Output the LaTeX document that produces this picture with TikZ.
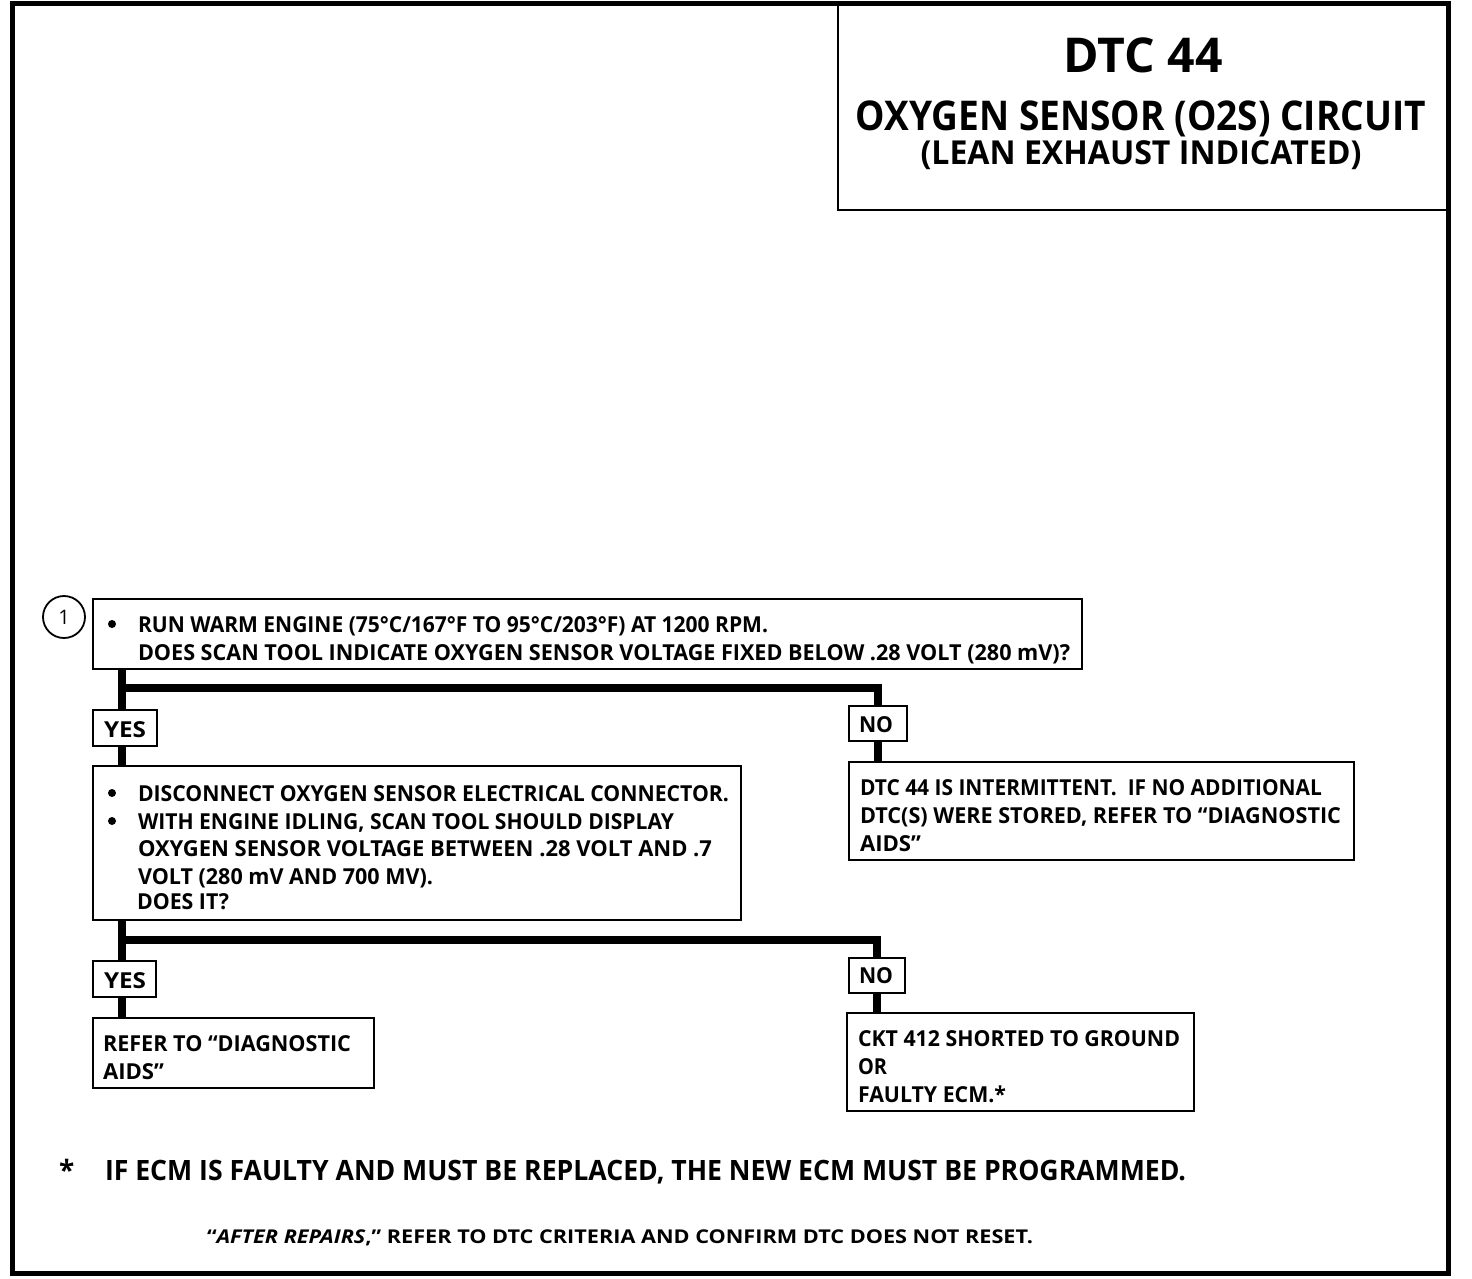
\documentclass[tikz,border=0pt]{standalone}
\usepackage{fontspec}
\usepackage{graphicx}
\setmainfont{Open Sans}
\newcommand\fitline[2]{\resizebox{#1pt}{\height}{#2}}
\begin{document}
\begin{tikzpicture}[x=1pt,y=-1pt,
  box/.style={draw, line width=2pt, rectangle, inner sep=0pt, outer sep=0pt, anchor=north west},
  txt/.style={inner sep=0pt, outer sep=0pt, anchor=base west, font=\fontsize{22}{22}\selectfont\bfseries},
  conn/.style={line width=8pt, line join=miter},
  bul/.style={circle, fill, inner sep=0pt, minimum size=8pt}]
\useasboundingbox (0,0) rectangle (1472,1278);
% frame
\draw[line width=5pt] (12.5,3) rectangle (1448.5,1273);
% title box
\node[box, minimum width=610, minimum height=207] (title) at (838,3) {};
\node[inner sep=0pt, anchor=base] (t1) at (1143,72) {\fontsize{48}{48}\selectfont\bfseries\fitline{159}{DTC 44}};
\node[inner sep=0pt, anchor=base] (t2) at (1141,130) {\fontsize{41}{41}\selectfont\bfseries\fitline{570}{OXYGEN SENSOR (O2S) CIRCUIT}};
\node[inner sep=0pt, anchor=base] (t3) at (1141,164) {\fontsize{33}{33}\selectfont\bfseries\fitline{441}{(LEAN EXHAUST INDICATED)}};
% step marker
\node[circle, draw, line width=1.8pt, minimum width=42pt, minimum height=42pt, inner sep=0pt, font=\fontsize{20}{20}\selectfont] (c1) at (64,617) {1};
% spine coordinates
\coordinate (lx) at (122,0);
% box 1
\node[box, minimum width=989, minimum height=70] (b1) at (93,599) {};
\node[bul] (b1d) at (112,624) {};
\node[txt] (b1l1) at (138,632) {\fitline{630}{RUN WARM ENGINE (75°C/167°F TO 95°C/203°F) AT 1200 RPM.}};
\node[txt] (b1l2) at (138,660) {\fitline{932}{DOES SCAN TOOL INDICATE OXYGEN SENSOR VOLTAGE FIXED BELOW .28 VOLT (280 mV)?}};
% yes/no 1
\node[box, minimum width=64, minimum height=36] (y1) at (93,710) {};
\node[txt] (y1t) at (104,737) {\fitline{42}{YES}};
\node[box, minimum width=58, minimum height=35] (n1) at (849,706) {};
\node[txt] (n1t) at (859,732) {\fitline{34}{NO}};
% box 2
\node[box, minimum width=648, minimum height=154] (b2) at (93,766) {};
\node[bul] (b2d1) at (112,793) {};
\node[bul] (b2d2) at (112,821) {};
\node[txt] (b2l1) at (138,801) {\fitline{591}{DISCONNECT OXYGEN SENSOR ELECTRICAL CONNECTOR.}};
\node[txt] (b2l2) at (138,829) {\fitline{536}{WITH ENGINE IDLING, SCAN TOOL SHOULD DISPLAY}};
\node[txt] (b2l3) at (138,856) {\fitline{574}{OXYGEN SENSOR VOLTAGE BETWEEN .28 VOLT AND .7}};
\node[txt] (b2l4) at (138,884) {\fitline{295}{VOLT (280 mV AND 700 MV).}};
\node[txt] (b2l5) at (137,909) {\fitline{92}{DOES IT?}};
% no-1 result
\node[box, minimum width=505, minimum height=98] (r1) at (849,762) {};
\node[txt] (r1l1) at (860,795) {\fitline{462}{DTC 44 IS INTERMITTENT.\ \ IF NO ADDITIONAL}};
\node[txt] (r1l2) at (860,823) {\fitline{481}{DTC(S) WERE STORED, REFER TO “DIAGNOSTIC}};
\node[txt] (r1l3) at (860,851) {\fitline{61}{AIDS”}};
% yes/no 2
\node[box, minimum width=63, minimum height=36] (y2) at (93,961) {};
\node[txt] (y2t) at (104,988) {\fitline{42}{YES}};
\node[box, minimum width=56, minimum height=35] (n2) at (849,958) {};
\node[txt] (n2t) at (859,983) {\fitline{34}{NO}};
% results 2
\node[box, minimum width=281, minimum height=70] (r2) at (93,1018) {};
\node[txt] (r2l1) at (103,1051) {\fitline{248}{REFER TO “DIAGNOSTIC}};
\node[txt] (r2l2) at (103,1079) {\fitline{61}{AIDS”}};
\node[box, minimum width=347, minimum height=98] (r3) at (847,1013) {};
\node[txt] (r3l1) at (858,1046) {\fitline{322}{CKT 412 SHORTED TO GROUND}};
\node[txt] (r3l2) at (858,1074) {\fitline{29}{OR}};
\node[txt] (r3l3) at (858,1102) {\fitline{148}{FAULTY ECM.*}};
% connectors
\draw[conn] (b1.south -| lx) -- (y1.north -| lx);
\draw[conn] ([yshift=-19pt]b1.south -| lx) -| (n1.north);
\draw[conn] (y1.south -| lx) -- (b2.north -| lx);
\draw[conn] (n1.south) -- (r1.north -| n1.south);
\draw[conn] (b2.south -| lx) -- (y2.north -| lx);
\draw[conn] ([yshift=-20pt]b2.south -| lx) -| (n2.north);
\draw[conn] (y2.south -| lx) -- (r2.north -| lx);
\draw[conn] (n2.south) -- (r3.north -| n2.south);
% footer
\node[txt, font=\fontsize{28}{28}\selectfont\bfseries] (ast) at (59,1180) {*};
\node[txt, font=\fontsize{28}{28}\selectfont\bfseries] (f1) at (105,1180) {\fitline{1081}{IF ECM IS FAULTY AND MUST BE REPLACED, THE NEW ECM MUST BE PROGRAMMED.}};
\node[txt, font=\fontsize{19}{19}\selectfont\bfseries] (f2) at (207,1243) {\fitline{826}{“{\itshape AFTER REPAIRS},” REFER TO DTC CRITERIA AND CONFIRM DTC DOES NOT RESET.}};
\end{tikzpicture}
\end{document}
